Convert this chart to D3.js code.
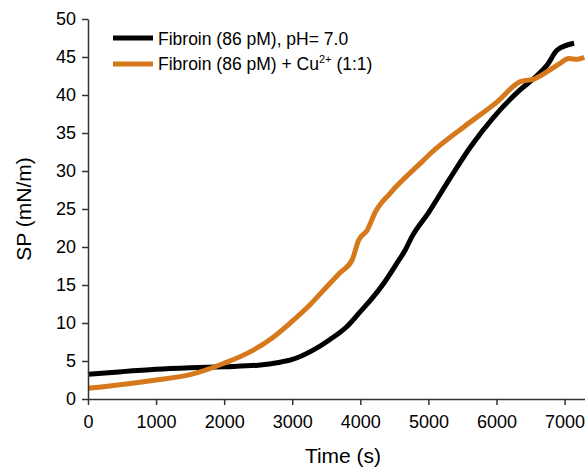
<!DOCTYPE html>
<html>
<head>
<meta charset="utf-8">
<script src="https://cdn.jsdelivr.net/npm/d3@7"></script>
<style>
body { margin: 0; background: #fff; }
text { font-family: Arial, "Liberation Sans", sans-serif; fill: #000; }
</style>
</head>
<body>
<div id="chart"></div>
<script>
// black: fibroin alone
var timeA = [0, 500, 1000, 1500, 2000, 2500, 2800, 3000, 3300, 3550, 3800, 4000, 4150, 4350, 4540, 4660, 4760, 5000, 5300, 5620, 5960, 6350, 6550, 6750, 6890, 7140];
var spA   = [3.25, 3.6, 3.9, 4.1, 4.25, 4.45, 4.8, 5.2, 6.4, 7.8, 9.5, 11.5, 13.0, 15.3, 17.9, 19.6, 21.4, 24.5, 28.8, 33.2, 37.1, 40.7, 42.2, 44.0, 45.9, 46.8];
// orange: fibroin + Cu2+
var timeB = [0, 500, 1000, 1500, 2000, 2380, 2700, 2970, 3250, 3510, 3700, 3880, 3975, 4100, 4220, 4440, 4880, 5030, 5520, 6010, 6350, 6550, 6750, 6940, 7060, 7190, 7290];
var spB   = [1.4, 1.9, 2.5, 3.2, 4.7, 6.2, 8.0, 10.0, 12.3, 14.8, 16.6, 18.3, 20.9, 22.2, 24.6, 27.1, 31.0, 32.3, 35.8, 39.1, 41.75, 42.1, 43.1, 44.2, 44.8, 44.7, 44.95];
var xTicks = [0, 1000, 2000, 3000, 4000, 5000, 6000, 7000];
var yTicks = [0, 5, 10, 15, 20, 25, 30, 35, 40, 45, 50];

var width = 585, height = 469;
var svg = d3.select("#chart").append("svg").attr("width", width).attr("height", height);

var x = d3.scaleLinear().domain([0, 7300]).range([88, 585]);
var y = d3.scaleLinear().domain([0, 50]).range([399, 19]);

var line = d3.line().x(function(d){ return x(d[0]); }).y(function(d){ return y(d[1]); }).curve(d3.curveMonotoneX);

var dataA = d3.zip(timeA, spA);
var dataB = d3.zip(timeB, spB);

svg.append("path").datum(dataA).attr("d", line).attr("fill", "none").attr("stroke", "#000").attr("stroke-width", 5);
svg.append("path").datum(dataB).attr("d", line).attr("fill", "none").attr("stroke", "#d6781c").attr("stroke-width", 5);

// axes
var gx = svg.append("g").attr("transform", "translate(0,399)");
gx.call(d3.axisBottom(x).tickValues(d3.range(0, 7300, 500)).tickSize(3).tickFormat(""));
gx.call(d3.axisBottom(x).tickValues(xTicks).tickSize(6).tickSizeOuter(0).tickFormat(d3.format("d")));
gx.selectAll("path").attr("stroke", "#333").attr("stroke-width", 1.5);
gx.selectAll("line").attr("stroke", "#333").attr("stroke-width", 1.5);
gx.selectAll("text").attr("font-size", 18).attr("y", 16).style("font-family", "Arial, 'Liberation Sans', sans-serif");

var gy = svg.append("g").attr("transform", "translate(88,0)");
gy.call(d3.axisLeft(y).tickValues(d3.range(0, 50.1, 2.5)).tickSize(3).tickFormat(""));
gy.call(d3.axisLeft(y).tickValues(yTicks).tickSize(6).tickSizeOuter(0).tickFormat(d3.format("d")));
gy.selectAll("path").attr("stroke", "#333").attr("stroke-width", 1.5);
gy.selectAll("line").attr("stroke", "#333").attr("stroke-width", 1.5);
gy.selectAll("text").attr("font-size", 18).attr("x", -12).style("font-family", "Arial, 'Liberation Sans', sans-serif");

svg.append("text").attr("x", 343).attr("y", 463).attr("text-anchor", "middle").attr("font-size", 21).text("Time (s)");
svg.append("text").attr("transform", "translate(31,209) rotate(-90)").attr("text-anchor", "middle").attr("font-size", 21).text("SP (mN/m)");

// legend
var leg = svg.append("g");
leg.append("line").attr("x1", 113).attr("x2", 153).attr("y1", 38).attr("y2", 38).attr("stroke", "#000").attr("stroke-width", 5);
leg.append("line").attr("x1", 113).attr("x2", 153).attr("y1", 64).attr("y2", 64).attr("stroke", "#d6781c").attr("stroke-width", 5);
leg.append("text").attr("x", 158).attr("y", 45).attr("font-size", 17.5).text("Fibroin (86 pM), pH= 7.0");
var t2 = leg.append("text").attr("x", 158).attr("y", 70).attr("font-size", 17.5);
t2.append("tspan").text("Fibroin (86 pM) + Cu");
t2.append("tspan").attr("font-size", 11).attr("dy", -7).text("2+");
t2.append("tspan").attr("dy", 7).text(" (1:1)");
</script>
</body>
</html>
